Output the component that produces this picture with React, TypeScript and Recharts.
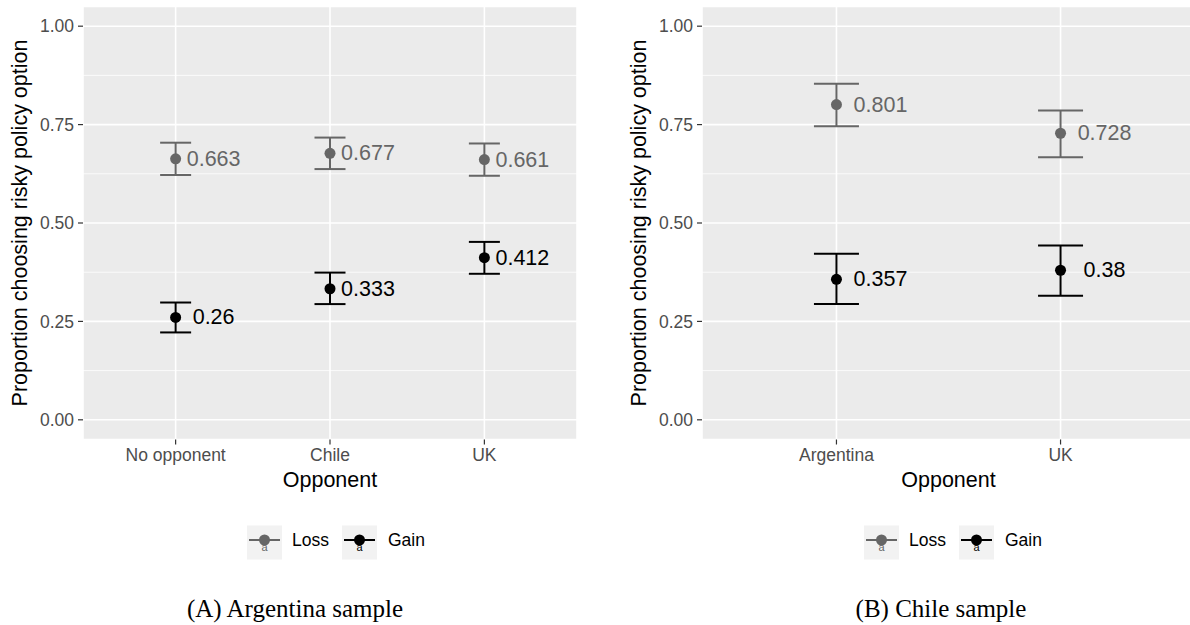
import React from 'react';
import { ScatterChart, Scatter, XAxis, YAxis, CartesianGrid, ErrorBar, ReferenceLine, Legend } from 'recharts';

const FONT = '"Liberation Sans", Arial, Helvetica, sans-serif';
const SERIF = '"Liberation Serif", "Times New Roman", serif';
const LOSS_COLOR = '#666666';
const GAIN_COLOR = '#000000';

// Panel A: Argentina sample
const catsA = ['No opponent', 'Chile', 'UK'];
const lossA = [0.663, 0.677, 0.661];
const lossLoA = [0.622, 0.637, 0.62];
const lossHiA = [0.704, 0.717, 0.702];
const gainA = [0.26, 0.333, 0.412];
const gainLoA = [0.222, 0.294, 0.371];
const gainHiA = [0.298, 0.374, 0.452];

// Panel B: Chile sample
const catsB = ['Argentina', 'UK'];
const lossB = [0.801, 0.728];
const lossLoB = [0.746, 0.667];
const lossHiB = [0.854, 0.786];
const gainB = [0.357, 0.38];
const gainLoB = [0.294, 0.315];
const gainHiB = [0.422, 0.443];

const yTicks = [0, 0.25, 0.5, 0.75, 1];
const yTickLabels = ['0.00', '0.25', '0.50', '0.75', '1.00'];
const yMinor = [0.125, 0.375, 0.625, 0.875];
const seriesNames = ['Loss', 'Gain'];

function build(mean: number[], lo: number[], hi: number[]) {
  return mean.map((m, i) => ({ x: i, y: m, err: [m - lo[i], hi[i] - m] }));
}

function makeShape(color: string, dx: number) {
  return (props: any) => {
    const { cx, cy, payload } = props;
    return (
      <g>
        <circle cx={cx} cy={cy} r={5.5} fill={color} />
        <text x={cx + dx} y={cy} textAnchor="middle" dominantBaseline="central" fontSize={21.5} fontFamily={FONT} fill={color}>
          {String(payload.y)}
        </text>
      </g>
    );
  };
}

function LegendKeys() {
  const colors = [LOSS_COLOR, GAIN_COLOR];
  const boxX = [0, 95];
  const textX = [45, 141];
  return (
    <svg width={200} height={36} style={{ display: 'block' }}>
      {seriesNames.map((n, i) => (
        <g key={n}>
          <rect x={boxX[i]} y={0.5} width={35} height={34} fill="#F2F2F2" />
          <line x1={boxX[i] + 2} x2={boxX[i] + 33} y1={15} y2={15} stroke={colors[i]} strokeWidth={2} />
          <circle cx={boxX[i] + 17.5} cy={15} r={5.5} fill={colors[i]} />
          <text x={boxX[i] + 17.5} y={26} textAnchor="middle" fontSize={11} fontFamily={FONT} fill={colors[i]}>a</text>
          <text x={textX[i]} y={15} dominantBaseline="central" fontSize={17.5} fontFamily={FONT} fill="#000">{n}</text>
        </g>
      ))}
    </svg>
  );
}

type PanelProps = {
  cats: string[];
  loss: any[];
  gain: any[];
  width: number;
  rightMargin: number;
  capWidth: number;
  labelDx: number;
  legendLeft: number;
};

function Panel({ cats, loss, gain, width, rightMargin, capWidth, labelDx, legendLeft }: PanelProps) {
  const n = cats.length;
  const xTicks = cats.map((_, i) => i);
  return (
    <ScatterChart width={width} height={625} margin={{ top: 6.5, right: rightMargin, bottom: 155.5, left: 0 }}>
      <CartesianGrid fill="#EBEBEB" fillOpacity={1} stroke="#FFFFFF" strokeWidth={1.6} />
      {yMinor.map((v) => (
        <ReferenceLine key={v} y={v} stroke="#FFFFFF" strokeWidth={0.8} />
      ))}
      <XAxis
        type="number"
        dataKey="x"
        domain={[-0.6, n - 0.4]}
        ticks={xTicks}
        interval={0}
        allowDataOverflow
        tickFormatter={(v: number) => cats[v] ?? ''}
        axisLine={false}
        tickLine={{ stroke: '#333333', strokeWidth: 1.2 }}
        tickSize={5}
        tickMargin={4}
        height={30}
        tick={{ fill: '#4D4D4D', fontSize: 17.5, fontFamily: FONT }}
      />
      <YAxis
        type="number"
        dataKey="y"
        domain={[-0.05, 1.05]}
        ticks={yTicks}
        interval={0}
        allowDataOverflow
        tickFormatter={(v: number) => yTickLabels[yTicks.indexOf(v)] ?? ''}
        axisLine={false}
        tickLine={{ stroke: '#333333', strokeWidth: 1.2 }}
        tickSize={5}
        tickMargin={4}
        width={83}
        tick={{ fill: '#4D4D4D', fontSize: 17.5, fontFamily: FONT }}
      />
      <Legend
        layout="horizontal"
        verticalAlign="middle"
        align="center"
        content={() => <LegendKeys />}
        wrapperStyle={{ position: 'absolute', top: 525, left: legendLeft, width: 200, height: 36 }}
      />
      <Scatter name="Loss" data={loss} fill={LOSS_COLOR} shape={makeShape(LOSS_COLOR, labelDx)} isAnimationActive={false}>
        <ErrorBar dataKey="err" direction="y" width={capWidth} stroke={LOSS_COLOR} strokeWidth={2} />
      </Scatter>
      <Scatter name="Gain" data={gain} fill={GAIN_COLOR} shape={makeShape(GAIN_COLOR, labelDx)} isAnimationActive={false}>
        <ErrorBar dataKey="err" direction="y" width={capWidth} stroke={GAIN_COLOR} strokeWidth={2} />
      </Scatter>
    </ScatterChart>
  );
}

export default function App() {
  const lossDataA = build(lossA, lossLoA, lossHiA);
  const gainDataA = build(gainA, gainLoA, gainHiA);
  const lossDataB = build(lossB, lossLoB, lossHiB);
  const gainDataB = build(gainB, gainLoB, gainHiB);
  return (
    <div style={{ position: 'absolute', left: 0, top: 0, width: 1190, height: 625, overflow: 'hidden', background: '#fff' }}>
      <div style={{ position: 'absolute', left: 0, top: 0 }}>
        <Panel cats={catsA} loss={lossDataA} gain={gainDataA} width={600} rightMargin={23} capWidth={15.5} labelDx={38} legendLeft={247} />
      </div>
      <div style={{ position: 'absolute', left: 619, top: 0 }}>
        <Panel cats={catsB} loss={lossDataB} gain={gainDataB} width={576} rightMargin={0} capWidth={22.5} labelDx={44} legendLeft={245} />
      </div>
      <svg width={1190} height={625} style={{ position: 'absolute', left: 0, top: 0, pointerEvents: 'none' }}>
        <text x={330} y={487} textAnchor="middle" fontSize={21.5} fontFamily={FONT} fill="#000">Opponent</text>
        <text x={948.5} y={487} textAnchor="middle" fontSize={21.5} fontFamily={FONT} fill="#000">Opponent</text>
        <text transform="translate(20,223) rotate(-90)" textAnchor="middle" dominantBaseline="central" fontSize={21.5} fontFamily={FONT} fill="#000">
          Proportion choosing risky policy option
        </text>
        <text transform="translate(639,223) rotate(-90)" textAnchor="middle" dominantBaseline="central" fontSize={21.5} fontFamily={FONT} fill="#000">
          Proportion choosing risky policy option
        </text>
        <text x={295} y={617} textAnchor="middle" fontSize={25} fontFamily={SERIF} fill="#000">(A) Argentina sample</text>
        <text x={941} y={617} textAnchor="middle" fontSize={25} fontFamily={SERIF} fill="#000">(B) Chile sample</text>
      </svg>
    </div>
  );
}
